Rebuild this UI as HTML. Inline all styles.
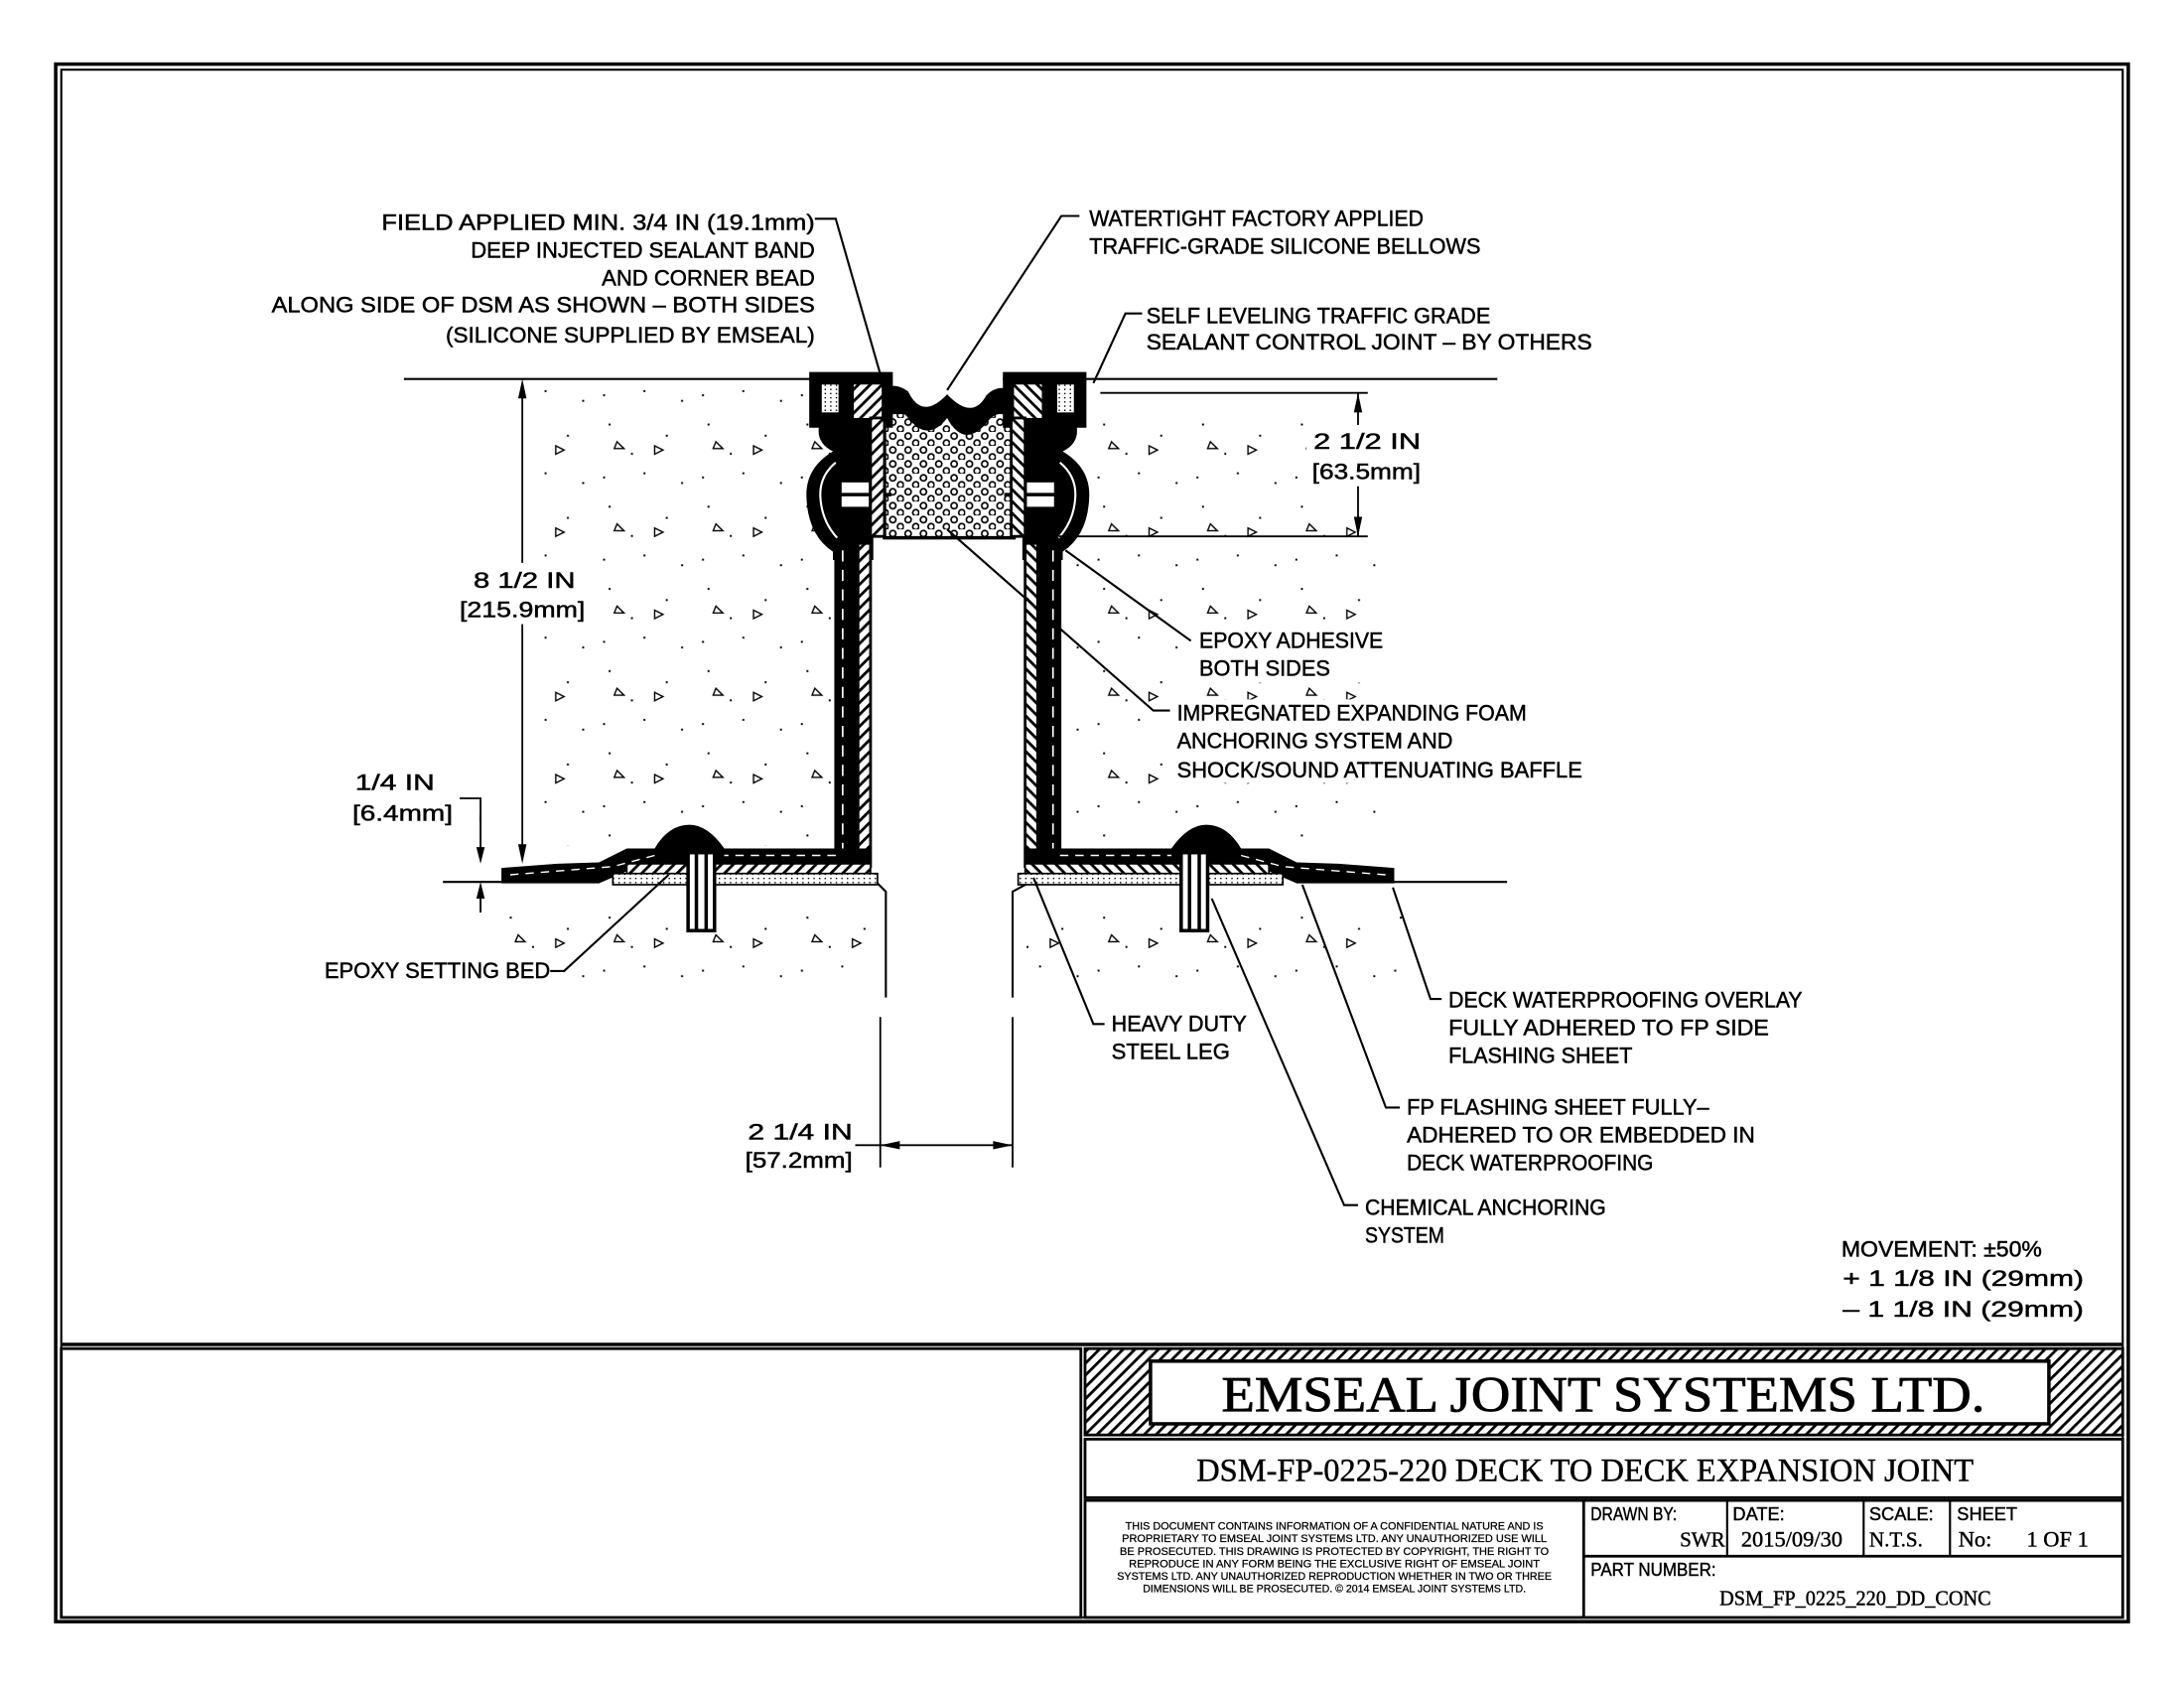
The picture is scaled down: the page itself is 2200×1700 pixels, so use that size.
<!DOCTYPE html>
<html><head><meta charset="utf-8"><style>
html,body{margin:0;padding:0;background:#fff;}
svg{display:block;}
text{font-family:"Liberation Sans",sans-serif;fill:#000;}
.t text{stroke:#000;stroke-width:0.35;}
.s{font-family:"Liberation Serif",serif;}
</style></head><body>
<svg width="2200" height="1700" viewBox="0 0 1568 1211.6" xmlns="http://www.w3.org/2000/svg">
<defs>
<pattern id="hat" width="6" height="6" patternUnits="userSpaceOnUse" patternTransform="rotate(45)">
<rect width="6" height="6" fill="#fff"/><rect width="2" height="6" fill="#000"/></pattern>
<pattern id="foam" width="11" height="10" patternUnits="userSpaceOnUse">
<rect width="11" height="10" fill="#fff"/><circle cx="3" cy="3" r="2.2" fill="none" stroke="#000" stroke-width="1.2"/><circle cx="8.5" cy="8" r="2.2" fill="none" stroke="#000" stroke-width="1.2"/></pattern>
<pattern id="dots" width="4" height="3" patternUnits="userSpaceOnUse"><rect width="4" height="3" fill="#fff"/><rect width="1" height="1" fill="#000"/></pattern>
<pattern id="cB" width="71" height="59" patternUnits="userSpaceOnUse">
<g fill="#000"><rect x="11" y="9" width="1.4" height="1.4"/><rect x="52" y="17" width="1.4" height="1.4"/><rect x="36" y="44" width="1.4" height="1.4"/><rect x="63" y="51" width="1.4" height="1.4"/><rect x="7" y="47" width="1.4" height="1.4"/><rect x="27" y="30" width="1.4" height="1.4"/></g>
<polygon points="44,25 50,28 44,31" fill="none" stroke="#000" stroke-width="1"/>
<polygon points="17,22 22,27 15,27" fill="none" stroke="#000" stroke-width="1"/></pattern>
<g id="dsm">
 <rect x="581" y="267" width="60" height="40" fill="#000"/>
 <rect x="590" y="276" width="12" height="20" fill="url(#dots)"/>
 <rect x="613" y="276" width="20" height="24" fill="url(#hat)"/>
 <path d="M588 306 Q586 318 598 324 Q578 336 579 357 Q580 384 598 396 L598 402 L627 402 L627 306 Z" fill="#000"/>
 <path d="M600 332 Q588 342 589 357 Q590 374 601 386" fill="none" stroke="#fff" stroke-width="1.5"/>
 <rect x="603" y="345" width="22" height="20" fill="#fff" stroke="#000" stroke-width="2.5"/>
 <line x1="603" y1="355" x2="640" y2="355" stroke="#000" stroke-width="2.5"/>
 <rect x="625" y="300" width="10" height="85" fill="url(#hat)" stroke="#000" stroke-width="2"/>
 <rect x="599" y="390" width="17" height="226" fill="#000"/>
 <line x1="605" y1="395" x2="605" y2="610" stroke="#fff" stroke-width="1.2" stroke-dasharray="8,6"/>
 <rect x="616" y="390" width="9" height="232" fill="url(#hat)" stroke="#000" stroke-width="2"/>
 <path d="M616 609 L520 609 Q508 592 495 592 Q480 592 470 609 L450 609 L430 619 L400 620 L360 623 L360 634 L430 634 L460 621 L625 621 L625 609 Z" fill="#000"/>
 <path d="M600 614 L520 614 M470 614 L440 622 L365 628" stroke="#fff" stroke-width="1" stroke-dasharray="6,5" fill="none"/>
 <rect x="450" y="620" width="175" height="9" fill="url(#hat)" stroke="#000" stroke-width="1.2"/>
 <rect x="440" y="627" width="190" height="8" fill="url(#dots)" stroke="#000" stroke-width="1.2"/>
 <rect x="494" y="612" width="19" height="56" fill="#fff" stroke="#000" stroke-width="2.5"/>
 <line x1="500" y1="612" x2="500" y2="668" stroke="#000" stroke-width="2.5"/>
 <line x1="507" y1="612" x2="507" y2="668" stroke="#000" stroke-width="2.5"/>
</g>
</defs>
<rect x="0" y="0" width="1568" height="1212" fill="#fff"/>
<!-- concrete -->
<rect x="390" y="280" width="208" height="327" fill="url(#cB)"/>
<rect x="764" y="290" width="236" height="312" fill="url(#cB)"/>
<rect x="345" y="645" width="285" height="65" fill="url(#cB)"/>
<rect x="733" y="645" width="275" height="65" fill="url(#cB)"/>
<!-- borders -->
<rect x="40" y="46" width="1488" height="1118" fill="none" stroke="#000" stroke-width="2.5"/>
<rect x="44" y="50" width="1480" height="1111" fill="none" stroke="#000" stroke-width="1.5"/>
<line x1="44" y1="965" x2="1524" y2="965" stroke="#000" stroke-width="2.5"/>
<rect x="44" y="968" width="732" height="193" fill="none" stroke="#000" stroke-width="2"/>
<rect x="779" y="968" width="745" height="62" fill="url(#hat)" stroke="#000" stroke-width="2"/>
<rect x="826" y="977" width="645" height="45" fill="#fff" stroke="#000" stroke-width="2.5"/>
<text x="1151" y="1013" class="s" font-size="36" text-anchor="middle" textLength="548" lengthAdjust="spacingAndGlyphs" stroke="#000" stroke-width="0.6">EMSEAL JOINT SYSTEMS LTD.</text>
<rect x="779" y="1033" width="745" height="42" fill="none" stroke="#000" stroke-width="2"/>
<text x="1138" y="1063" class="s" font-size="23" text-anchor="middle" textLength="558" lengthAdjust="spacingAndGlyphs" stroke="#000" stroke-width="0.3">DSM-FP-0225-220 DECK TO DECK EXPANSION JOINT</text>
<rect x="779" y="1077" width="745" height="84" fill="none" stroke="#000" stroke-width="2"/>
<line x1="1137" y1="1077" x2="1137" y2="1161" stroke="#000" stroke-width="2"/>
<line x1="1137" y1="1117" x2="1524" y2="1117" stroke="#000" stroke-width="2"/>
<line x1="1240" y1="1077" x2="1240" y2="1117" stroke="#000" stroke-width="1.5"/>
<line x1="1338" y1="1077" x2="1338" y2="1117" stroke="#000" stroke-width="1.5"/>
<line x1="1400" y1="1077" x2="1400" y2="1117" stroke="#000" stroke-width="1.5"/>
<g font-size="8" text-anchor="middle" stroke="#000" stroke-width="0.2">
<text x="958" y="1098" textLength="300" lengthAdjust="spacingAndGlyphs">THIS DOCUMENT CONTAINS INFORMATION OF A CONFIDENTIAL NATURE AND IS</text>
<text x="958" y="1107" textLength="305" lengthAdjust="spacingAndGlyphs">PROPRIETARY TO EMSEAL JOINT SYSTEMS LTD. ANY UNAUTHORIZED USE WILL</text>
<text x="958" y="1116" textLength="308" lengthAdjust="spacingAndGlyphs">BE PROSECUTED. THIS DRAWING IS PROTECTED BY COPYRIGHT, THE RIGHT TO</text>
<text x="958" y="1125" textLength="295" lengthAdjust="spacingAndGlyphs">REPRODUCE IN ANY FORM BEING THE EXCLUSIVE RIGHT OF EMSEAL JOINT</text>
<text x="958" y="1134" textLength="312" lengthAdjust="spacingAndGlyphs">SYSTEMS LTD. ANY UNAUTHORIZED REPRODUCTION WHETHER IN TWO OR THREE</text>
<text x="958" y="1143" textLength="275" lengthAdjust="spacingAndGlyphs">DIMENSIONS WILL BE PROSECUTED. © 2014 EMSEAL JOINT SYSTEMS LTD.</text>
</g>
<g font-size="13" stroke="#000" stroke-width="0.3">
<text x="1142" y="1091" textLength="62" lengthAdjust="spacingAndGlyphs">DRAWN BY:</text>
<text x="1206" y="1110" class="s" font-size="15">SWR</text>
<text x="1244" y="1091">DATE:</text>
<text x="1250" y="1110" class="s" font-size="16">2015/09/30</text>
<text x="1342" y="1091">SCALE:</text>
<text x="1342" y="1110" class="s" font-size="15">N.T.S.</text>
<text x="1405" y="1091">SHEET</text>
<text x="1406" y="1110" class="s" font-size="16">No:</text>
<text x="1455" y="1110" class="s" font-size="16">1 OF 1</text>
<text x="1142" y="1131" textLength="90" lengthAdjust="spacingAndGlyphs">PART NUMBER:</text>
<text x="1332" y="1152" class="s" font-size="15" text-anchor="middle" textLength="195" lengthAdjust="spacingAndGlyphs">DSM_FP_0225_220_DD_CONC</text>
</g>
<!-- deck lines -->
<g stroke="#000" stroke-width="1.5" fill="none">
<line x1="290" y1="272" x2="640" y2="272"/>
<line x1="720" y1="272" x2="1075" y2="272"/>
<line x1="318" y1="633" x2="360" y2="633"/>
<line x1="1000" y1="633" x2="1082" y2="633"/>
<polyline points="630,634 636,640 636,716"/>
<polyline points="738,634 727,640 727,716"/>
</g>
<!-- foam -->
<rect x="635" y="296" width="93" height="90" fill="url(#foam)" stroke="#000" stroke-width="2.5"/>
<path d="M630 283 Q640 272 652 281 Q662 302 680 283 Q698 302 708 284 Q717 274 731 282 L731 300 Q716 292 708 304 Q692 322 680 300 Q666 318 652 300 Q644 290 630 300 Z" fill="#000"/>
<use href="#dsm"/>
<use href="#dsm" transform="translate(1361,0) scale(-1,1)"/>
<!-- text backgrounds inside concrete -->
<g fill="#fff">
<rect x="938" y="305" width="86" height="44"/>
<rect x="328" y="404" width="95" height="44"/>
<rect x="858" y="450" width="140" height="40"/>
<rect x="842" y="502" width="160" height="60"/>
<rect x="230" y="688" width="168" height="18"/>
</g>
<!-- dimensions -->
<g stroke="#000" stroke-width="1.3" fill="none">
<line x1="375" y1="276" x2="375" y2="404"/>
<line x1="375" y1="448" x2="375" y2="615"/>
<line x1="975" y1="282" x2="975" y2="305"/>
<line x1="975" y1="349" x2="975" y2="385"/>
<line x1="790" y1="282" x2="982" y2="282"/>
<line x1="760" y1="385" x2="982" y2="385"/>
<line x1="345" y1="585" x2="345" y2="615"/>
<line x1="345" y1="638" x2="345" y2="655"/>
<polyline points="330,573 345,573 345,590"/>
<line x1="632" y1="730" x2="632" y2="838"/>
<line x1="727" y1="730" x2="727" y2="838"/>
<line x1="614" y1="822" x2="727" y2="822"/>
</g>
<g fill="#000">
<path d="M375 620 l-3 -14 l6 0 Z"/><path d="M375 272 l-3 14 l6 0 Z"/>
<path d="M975 282 l-3 14 l6 0 Z"/><path d="M975 385 l-3 -14 l6 0 Z"/>
<path d="M345 620 l-3 -12 l6 0 Z"/><path d="M345 633 l-3 12 l6 0 Z"/>
<path d="M632 822 l14 -3 l0 6 Z"/><path d="M727 822 l-14 -3 l0 6 Z"/>
</g>
<!-- leaders -->
<g stroke="#000" stroke-width="1.5" fill="none">
<polyline points="585,157 600,157 633,272"/>
<polyline points="775,155 762,155 680,280"/>
<polyline points="820,225 808,225 785,275"/>
<line x1="855" y1="460" x2="765" y2="395"/>
<polyline points="840,510 828,510 680,380"/>
<polyline points="395,697 405,697 480,628"/>
<polyline points="793,735 785,735 742,630"/>
<polyline points="1035,717 1027,717 1000,637"/>
<polyline points="1005,795 995,795 935,635"/>
<polyline points="975,865 965,865 870,645"/>
</g>
<!-- labels -->
<g class="t" font-size="16">
<g text-anchor="end">
<text x="585" y="165" textLength="311" lengthAdjust="spacingAndGlyphs">FIELD APPLIED MIN. 3/4 IN (19.1mm)</text>
<text x="585" y="185" textLength="247" lengthAdjust="spacingAndGlyphs">DEEP INJECTED SEALANT BAND</text>
<text x="585" y="205" textLength="153" lengthAdjust="spacingAndGlyphs">AND CORNER BEAD</text>
<text x="585" y="224" textLength="390" lengthAdjust="spacingAndGlyphs">ALONG SIDE OF DSM AS SHOWN – BOTH SIDES</text>
<text x="585" y="246" textLength="265" lengthAdjust="spacingAndGlyphs">(SILICONE SUPPLIED BY EMSEAL)</text>
</g>
<text x="782" y="162" textLength="240" lengthAdjust="spacingAndGlyphs">WATERTIGHT FACTORY APPLIED</text>
<text x="782" y="182" textLength="281" lengthAdjust="spacingAndGlyphs">TRAFFIC-GRADE SILICONE BELLOWS</text>
<text x="823" y="232" textLength="247" lengthAdjust="spacingAndGlyphs">SELF LEVELING TRAFFIC GRADE</text>
<text x="823" y="251" textLength="320" lengthAdjust="spacingAndGlyphs">SEALANT CONTROL JOINT – BY OTHERS</text>
<text x="943" y="322" textLength="77" lengthAdjust="spacingAndGlyphs">2 1/2 IN</text>
<text x="942" y="344" textLength="78" lengthAdjust="spacingAndGlyphs">[63.5mm]</text>
<text x="340" y="422" textLength="73" lengthAdjust="spacingAndGlyphs">8 1/2 IN</text>
<text x="330" y="443" textLength="90" lengthAdjust="spacingAndGlyphs">[215.9mm]</text>
<text x="861" y="465" textLength="132" lengthAdjust="spacingAndGlyphs">EPOXY ADHESIVE</text>
<text x="861" y="485" textLength="94" lengthAdjust="spacingAndGlyphs">BOTH SIDES</text>
<text x="845" y="517" textLength="251" lengthAdjust="spacingAndGlyphs">IMPREGNATED EXPANDING FOAM</text>
<text x="845" y="537" textLength="198" lengthAdjust="spacingAndGlyphs">ANCHORING SYSTEM AND</text>
<text x="845" y="558" textLength="291" lengthAdjust="spacingAndGlyphs">SHOCK/SOUND ATTENUATING BAFFLE</text>
<text x="255" y="567" textLength="57" lengthAdjust="spacingAndGlyphs">1/4 IN</text>
<text x="253" y="589" textLength="72" lengthAdjust="spacingAndGlyphs">[6.4mm]</text>
<text x="233" y="702" textLength="162" lengthAdjust="spacingAndGlyphs">EPOXY SETTING BED</text>
<text x="798" y="740" textLength="97" lengthAdjust="spacingAndGlyphs">HEAVY DUTY</text>
<text x="798" y="760" textLength="85" lengthAdjust="spacingAndGlyphs">STEEL LEG</text>
<text x="1040" y="723" textLength="254" lengthAdjust="spacingAndGlyphs">DECK WATERPROOFING OVERLAY</text>
<text x="1040" y="743" textLength="230" lengthAdjust="spacingAndGlyphs">FULLY ADHERED TO FP SIDE</text>
<text x="1040" y="763" textLength="132" lengthAdjust="spacingAndGlyphs">FLASHING SHEET</text>
<text x="1010" y="800" textLength="217" lengthAdjust="spacingAndGlyphs">FP FLASHING SHEET FULLY–</text>
<text x="1010" y="820" textLength="250" lengthAdjust="spacingAndGlyphs">ADHERED TO OR EMBEDDED IN</text>
<text x="1010" y="840" textLength="177" lengthAdjust="spacingAndGlyphs">DECK WATERPROOFING</text>
<text x="980" y="872" textLength="173" lengthAdjust="spacingAndGlyphs">CHEMICAL ANCHORING</text>
<text x="980" y="892" textLength="57" lengthAdjust="spacingAndGlyphs">SYSTEM</text>
<text x="537" y="818" textLength="75" lengthAdjust="spacingAndGlyphs">2 1/4 IN</text>
<text x="535" y="838" textLength="77" lengthAdjust="spacingAndGlyphs">[57.2mm]</text>
<text x="1322" y="902" textLength="144" lengthAdjust="spacingAndGlyphs">MOVEMENT: ±50%</text>
<text x="1323" y="923" textLength="173" lengthAdjust="spacingAndGlyphs">+ 1 1/8 IN (29mm)</text>
<text x="1323" y="945" textLength="173" lengthAdjust="spacingAndGlyphs">– 1 1/8 IN (29mm)</text>
</g>
</svg>
</body></html>
